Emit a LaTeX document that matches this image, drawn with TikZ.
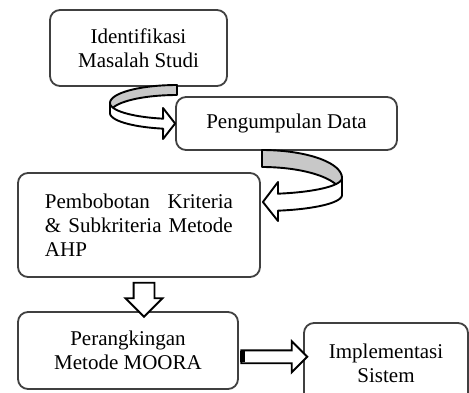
\documentclass[tikz,border=0pt]{standalone}
\usepackage{fontspec}
\setmainfont{Liberation Serif}
\usetikzlibrary{shapes.arrows,calc}
\definecolor{bandgray}{RGB}{200,200,200}
\definecolor{boxline}{RGB}{64,64,64}

\begin{document}
\begin{tikzpicture}[x=1pt,y=-1pt,
  box/.style={draw=boxline,line width=1.8pt,rounded corners=10pt,fill=white,inner sep=0pt,align=center,font=\fontsize{21}{24}\selectfont},
  band/.style={draw=black,line width=1.9pt,line join=round},
  blockarrow/.style={single arrow,draw=black,fill=white,line width=1.9pt,inner sep=0pt,single arrow tip angle=90,anchor=center},
]
\useasboundingbox (0,0) rectangle (469,392);

% Boxes
\node[box,minimum width=177pt,minimum height=76pt] (ident) at (138.5,48) {Identifikasi\\Masalah Studi};
\node[box,minimum width=221pt,minimum height=53pt] (kumpul) at (286.5,123.5) {Pengumpulan Data};
\node[box,minimum width=242pt,minimum height=104pt,text width=188pt,align=left] (bobot) at (139,225)
  {Pembobotan\hskip 0pt plus 1filll Kriteria\\\& Subkriteria Metode\\AHP};
\node[box,minimum width=220pt,minimum height=77pt] (rangking) at (128,350.5) {Perangkingan\\Metode MOORA};
\node[box,minimum width=164pt,minimum height=80pt] (implement) at (386,363) {Implementasi\\Sistem};

%Curved arrow: ident -> kumpul
\filldraw[band,fill=bandgray]
  plot[domain=270:180,samples=30] ({177+67*cos(\x)},{103+18*sin(\x)})
  -- plot[domain=180:270,samples=30] ({177+67*cos(\x)},{113+18*sin(\x)}) -- cycle;
\filldraw[band,fill=white]
  plot[domain=180:102,samples=30] ({177+67*cos(\x)},{103+16*sin(\x)})
  -- (163,108) -- (kumpul.west |- 0,123.5) -- (163,139)
  -- plot[domain=102:180,samples=30] ({177+67*cos(\x)},{113+16*sin(\x)}) -- cycle;

%Curved arrow: kumpul -> bobot
\filldraw[band,fill=bandgray]
  plot[domain=270:360,samples=30] ({262+80*cos(\x)},{178+28*sin(\x)})
  -- plot[domain=360:270,samples=30] ({262+80*cos(\x)},{195+28*sin(\x)}) -- cycle;
\filldraw[band,fill=white]
  plot[domain=0:78.5,samples=30] ({262+80*cos(\x)},{178+16*sin(\x)})
  -- (278,182) -- ($(bobot.east)+(2,-23)$) -- (278,221)
  -- plot[domain=78.5:0,samples=30] ({262+80*cos(\x)},{195+16*sin(\x)}) -- cycle;

%Straight arrows
\node[blockarrow,minimum height=34pt,inner ysep=9.5pt,single arrow head extend=8pt,rotate=-90] (down) at (144,294.5) {};
\node[blockarrow,minimum height=66pt,inner ysep=5.5pt,single arrow head extend=9pt] (right) at ($(rangking.east)!0.5!(implement.west)$) {};
\fill ($(right.tail)+(0,-5.5)$) rectangle ++(5,11);

\end{tikzpicture}
\end{document}
